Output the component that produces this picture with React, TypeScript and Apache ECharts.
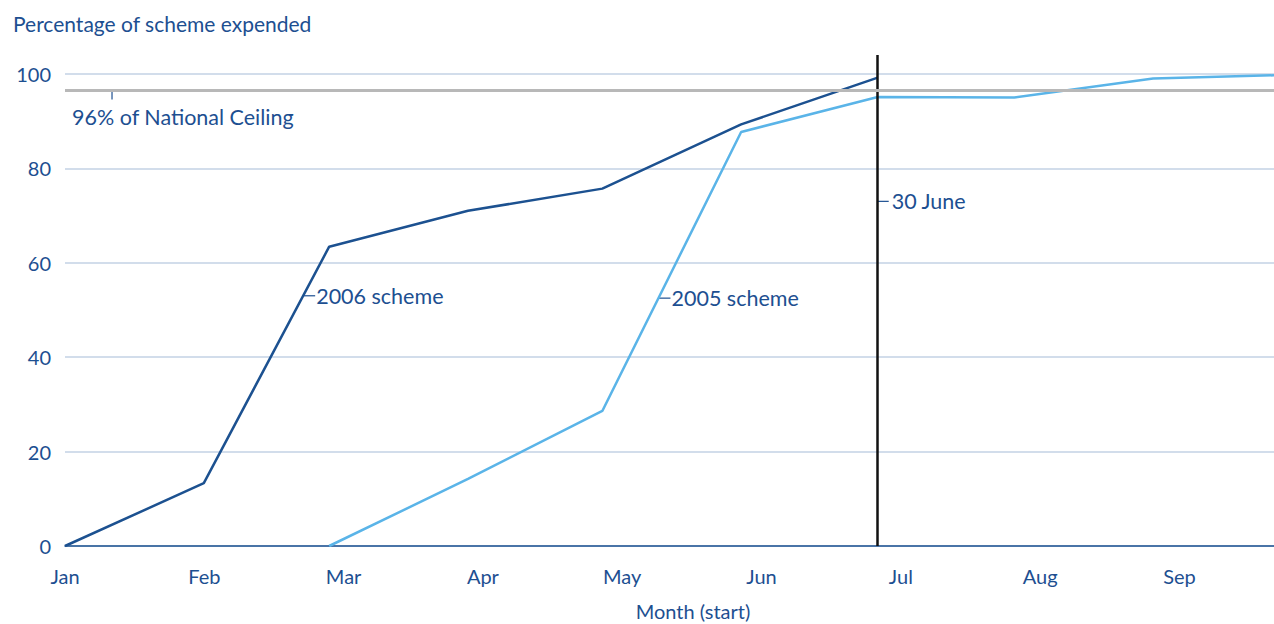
import React, { useEffect, useRef } from "react";
import * as echarts from "echarts";

// Day-of-year positions (0 = 1 Jan) of the data points
const days2006 = [0, 31, 59, 90, 120, 151, 181.5];
const scheme2006 = [0, 13.3, 63.4, 71.0, 75.7, 89.3, 99.2];
const days2005 = [59, 90, 120, 151, 181.5, 212, 243, 270];
const scheme2005 = [0, 14.2, 28.6, 87.7, 95.1, 95.0, 99.0, 99.7];

const monthLabels = ["Jan", "Feb", "Mar", "Apr", "May", "Jun", "Jul", "Aug", "Sep"];
const monthStep = 31.11;
const xMax = 270;
const ceilingValue = 96.5;
const juneDay = 181.5;

const FONT = "Lato, 'Noto Sans', sans-serif";
const TEXT = "#1d4f91";
const DARK = "#1c5190";
const LIGHT = "#5ab4e8";

function interpDay(ds: number[], vs: number[], v: number, from: number): number {
  for (let i = from; i < vs.length - 1; i++) {
    if ((vs[i] - v) * (vs[i + 1] - v) <= 0) {
      return ds[i] + ((v - vs[i]) / (vs[i + 1] - vs[i])) * (ds[i + 1] - ds[i]);
    }
  }
  return ds[0];
}

export default function App() {
  const ref = useRef<HTMLDivElement>(null);
  useEffect(() => {
    if (!ref.current) return;
    const chart = echarts.init(ref.current, null, { renderer: "svg" });
    chart.setOption({
      animation: false,
      grid: { left: 65, right: 0, top: 55, bottom: 78 },
      title: [
        {
          text: "Percentage of scheme expended",
          left: 8,
          top: 8,
          textStyle: { color: TEXT, fontFamily: FONT, fontSize: 21, fontWeight: "normal" },
        },
        {
          text: "Month (start)",
          left: 688,
          top: 596,
          textAlign: "center",
          textStyle: { color: TEXT, fontFamily: FONT, fontSize: 20, fontWeight: "normal" },
        },
      ],
      xAxis: {
        type: "value",
        min: 0,
        max: xMax,
        interval: monthStep,
        axisLine: { lineStyle: { color: DARK, width: 1.5 } },
        axisTick: { show: false },
        splitLine: { show: false },
        axisLabel: {
          color: TEXT,
          fontFamily: FONT,
          fontSize: 20,
          margin: 20,
          showMaxLabel: false,
          formatter: (v: number) => monthLabels[Math.round(v / monthStep)] ?? "",
        },
      },
      yAxis: {
        type: "value",
        min: 0,
        max: 104,
        interval: 20,
        axisLine: { show: false },
        axisTick: { show: false },
        splitLine: { lineStyle: { color: "#c3d2e4", width: 1.5 }, showMaxLine: false },
        axisLabel: {
          color: TEXT,
          fontFamily: FONT,
          fontSize: 20,
          margin: 14,
          showMaxLabel: false,
        },
      },
      series: [
        {
          name: "2005 scheme",
          type: "line",
          data: days2005.map((d, i) => [d, scheme2005[i]]),
          showSymbol: false,
          lineStyle: { color: LIGHT, width: 2.5 },
          z: 3,
        },
        {
          name: "2006 scheme",
          type: "line",
          data: days2006.map((d, i) => [d, scheme2006[i]]),
          showSymbol: false,
          lineStyle: { color: DARK, width: 2.5 },
          z: 4,
          markLine: {
            silent: true,
            symbol: "none",
            label: { show: false },
            data: [
              { xAxis: juneDay, lineStyle: { color: "#111111", width: 2.5, type: "solid" } },
              { yAxis: ceilingValue, lineStyle: { color: "#b8b8b8", width: 2.8, type: "solid" } },
            ],
          },
        },
      ],
    });

    const px = (x: number, y: number) => chart.convertToPixel({ gridIndex: 0 }, [x, y]) as number[];
    const textStyle = { fill: TEXT, font: `21.5px ${FONT}`, textVerticalAlign: "middle" };
    const lbl2006Val = 53;
    const lbl2005Val = 52.5;
    const p2006 = px(interpDay(days2006, scheme2006, lbl2006Val, 0), lbl2006Val);
    const p2005 = px(interpDay(days2005, scheme2005, lbl2005Val, 0), lbl2005Val);
    const pJune = px(juneDay, 73);
    const pCeil = px(10.5, ceilingValue);
    const tick = { stroke: TEXT, lineWidth: 1.2 };
    chart.setOption({
      graphic: [
        { type: "line", shape: { x1: p2006[0], y1: p2006[1], x2: p2006[0] + 12, y2: p2006[1] }, style: tick },
        { type: "text", x: p2006[0] + 13, y: p2006[1], style: { ...textStyle, text: "2006 scheme" } },
        { type: "line", shape: { x1: p2005[0], y1: p2005[1], x2: p2005[0] + 12, y2: p2005[1] }, style: tick },
        { type: "text", x: p2005[0] + 13, y: p2005[1], style: { ...textStyle, text: "2005 scheme" } },
        { type: "line", shape: { x1: pJune[0], y1: pJune[1], x2: pJune[0] + 11, y2: pJune[1] }, style: tick },
        { type: "text", x: pJune[0] + 14, y: pJune[1], style: { ...textStyle, text: "30 June" } },
        { type: "line", shape: { x1: pCeil[0], y1: pCeil[1], x2: pCeil[0], y2: pCeil[1] + 9 }, style: tick },
        { type: "text", x: pCeil[0] - 40, y: pCeil[1] + 27, style: { ...textStyle, text: "96% of National Ceiling" } },
      ],
    });
    return () => chart.dispose();
  }, []);
  return <div ref={ref} style={{ width: 1274, height: 624, position: "absolute", left: 0, top: 0 }} />;
}
